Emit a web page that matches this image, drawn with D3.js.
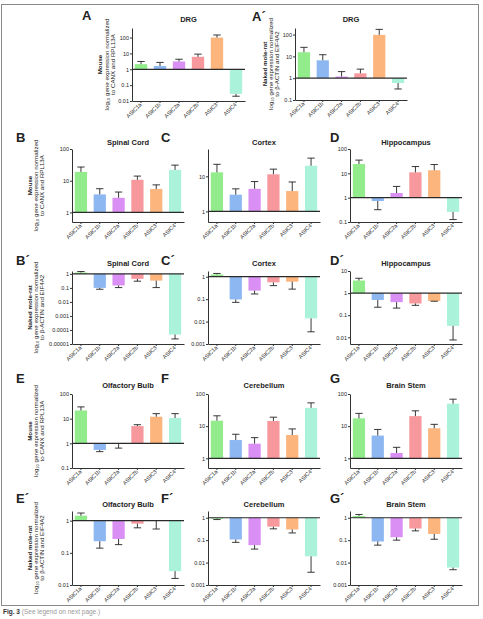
<!DOCTYPE html>
<html>
<head>
<meta charset="utf-8">
<script src="https://cdn.jsdelivr.net/npm/d3@7"></script>
<style>
body { margin: 0; background: #fff; }
text { font-family: "Liberation Sans", Arial, sans-serif; fill: #222; }
</style>
</head>
<body>
<svg id="fig" width="483" height="619"></svg>
<script>
var genes = ["ASIC1a", "ASIC1b", "ASIC2a", "ASIC2b", "ASIC3", "ASIC4"];
var geneColors = ["#93ec8b", "#8db7f1", "#d98ff3", "#f7989c", "#fbb57d", "#abf2da"];

// mouse, normalized to CANX and RPL13A (mean, mean + error)
var drgMouse = [2.1, 1.6, 3.1, 6.1, 100, 0.028];
var drgMouseErr = [3.1, 2.7, 4.3, 9, 145, 0.02];
var spinalMouse = [19, 3.7, 2.9, 10.7, 5.5, 22];
var spinalMouseErr = [27, 5.6, 4.4, 14, 7.4, 31];
var cortexMouse = [13, 3, 4.4, 11.4, 3.8, 20];
var cortexMouseErr = [22, 4.4, 7.1, 16, 6.9, 33];
var hippoMouse = [24, 0.73, 1.55, 11, 13.4, 0.26];
var hippoMouseErr = [35, 0.32, 2.9, 19, 23, 0.126];
var olfMouse = [21.5, 0.54, 0.97, 5, 12, 10.7];
var olfMouseErr = [30, 0.46, 0.64, 5.7, 16, 16];
var cereMouse = [14.8, 3.7, 2.85, 14.5, 5.3, 37];
var cereMouseErr = [21, 5.6, 4.4, 19, 8.2, 53];
var stemMouse = [17.5, 5.1, 1.46, 20.5, 8.6, 50];
var stemMouseErr = [25, 7.9, 2.2, 30, 11.4, 69];

// naked mole-rat, normalized to beta-ACTIN and EIF4A2
var drgRat = [15.5, 6.6, 1.19, 1.67, 97, 0.6];
var drgRatErr = [26, 11.9, 2, 2.6, 173, 0.32];
var spinalRat = [1.25, 0.1, 0.15, 0.44, 0.33, 0.000047];
var spinalRatErr = [1.47, 0.08, 0.105, 0.3, 0.105, 0.000023];
var cortexRat = [1.27, 0.097, 0.24, 0.56, 0.6, 0.014];
var cortexRatErr = [1.4, 0.072, 0.17, 0.4, 0.28, 0.0035];
var hippoRat = [3.7, 0.49, 0.39, 0.34, 0.44, 0.033];
var hippoRatErr = [4.7, 0.23, 0.21, 0.28, 0.43, 0.0076];
var olfRat = [1.43, 0.23, 0.27, 0.81, 0.98, 0.027];
var olfRatErr = [1.73, 0.14, 0.18, 0.6, 0.55, 0.016];
var cereRat = [0.9, 0.107, 0.06, 0.4, 0.3, 0.019];
var cereRatErr = [0.83, 0.08, 0.04, 0.32, 0.21, 0.0037];
var stemRat = [1.2, 0.087, 0.135, 0.33, 0.19, 0.006];
var stemRatErr = [1.4, 0.06, 0.1, 0.26, 0.11, 0.0048];

var tickValues = [100, 10, 1, 0.1, 0.01, 0.001, 0.0001, 0.00001];
var mouseLabel = ["Mouse", "gene expression normalized", "to CANX and RPL13A"];
var ratLabel = ["Naked mole-rat", "gene expression normalized", "to \u03b2-ACTIN and EIF4A2"];

var svg = d3.select("#fig");

// column / row placement of the plot areas
var cols = [72, 208, 350];
var colLetterX = [16, 161, 330];
var rows = [
    {y0: 149, y1: 222, letterY: 142, titleY: 144.5},
    {y0: 271, y1: 344, letterY: 265, titleY: 265.5},
    {y0: 394, y1: 468, letterY: 383, titleY: 388},
    {y0: 511, y1: 585, letterY: 503, titleY: 507}
];

var panels = [
    {letter: "A", title: "DRG", vals: drgMouse, errs: drgMouseErr, x: 132, w: 113, y0: 28, y1: 101, dom: [0.01, 400], lx: 82, ly: 20, ty: 21.5, lab: mouseLabel, labX: [102, 108.5, 115]},
    {letter: "A\u00b4", title: "DRG", vals: drgRat, errs: drgRatErr, x: 295, w: 112, y0: 28, y1: 100, dom: [0.1, 200], lx: 252, ly: 21, ty: 21.5, lab: ratLabel, labX: [267, 273, 279]},
    {letter: "B", title: "Spinal Cord", vals: spinalMouse, errs: spinalMouseErr, col: 0, row: 0, dom: [0.5, 100], lab: mouseLabel},
    {letter: "C", title: "Cortex", vals: cortexMouse, errs: cortexMouseErr, col: 1, row: 0, dom: [0.5, 60]},
    {letter: "D", title: "Hippocampus", vals: hippoMouse, errs: hippoMouseErr, col: 2, row: 0, dom: [0.1, 100]},
    {letter: "B\u00b4", title: "Spinal Cord", vals: spinalRat, errs: spinalRatErr, col: 0, row: 1, dom: [0.00001, 1.6], lab: ratLabel},
    {letter: "C\u00b4", title: "Cortex", vals: cortexRat, errs: cortexRatErr, col: 1, row: 1, dom: [0.001, 1.8]},
    {letter: "D\u00b4", title: "Hippocampus", vals: hippoRat, errs: hippoRatErr, col: 2, row: 1, dom: [0.005, 10]},
    {letter: "E", title: "Olfactory Bulb", vals: olfMouse, errs: olfMouseErr, col: 0, row: 2, dom: [0.1, 100], lab: mouseLabel},
    {letter: "F", title: "Cerebellum", vals: cereMouse, errs: cereMouseErr, col: 1, row: 2, dom: [0.5, 100]},
    {letter: "G", title: "Brain Stem", vals: stemMouse, errs: stemMouseErr, col: 2, row: 2, dom: [0.5, 100]},
    {letter: "E\u00b4", title: "Olfactory Bulb", vals: olfRat, errs: olfRatErr, col: 0, row: 3, dom: [0.01, 2], lab: ratLabel},
    {letter: "F\u00b4", title: "Cerebellum", vals: cereRat, errs: cereRatErr, col: 1, row: 3, dom: [0.001, 2]},
    {letter: "G\u00b4", title: "Brain Stem", vals: stemRat, errs: stemRatErr, col: 2, row: 3, dom: [0.001, 2]}
];

// outer frame of the figure
svg.append("rect")
    .attr("x", 1.5).attr("y", 4.5)
    .attr("width", 477).attr("height", 601)
    .attr("fill", "none").attr("stroke", "#8a8a8a").attr("stroke-width", 1);

function fmtTick(v) {
    if (v >= 1) return String(v);
    return v.toFixed(Math.round(-Math.log10(v)));
}

function drawPanel(p) {
    if (p.col !== undefined) {
        var r = rows[p.row];
        p.x = cols[p.col]; p.w = 112;
        p.y0 = r.y0; p.y1 = r.y1;
        p.lx = colLetterX[p.col]; p.ly = r.letterY; p.ty = r.titleY;
        p.labX = [31.5, 37.5, 43.5];
    }
    var g = svg.append("g");

    var x = d3.scaleBand().domain(genes)
        .range([p.x, p.x + p.w])
        .paddingInner(0.35).paddingOuter(0.15);
    var y = d3.scaleLog().domain(p.dom).range([p.y1, p.y0]);
    var ticks = tickValues.filter(function (t) { return t >= p.dom[0] * 0.999 && t <= p.dom[1] * 1.001; });

    // bars grow from 1
    g.selectAll("rect.bar").data(p.vals).join("rect")
        .attr("class", "bar")
        .attr("x", function (d, i) { return x(genes[i]); })
        .attr("width", x.bandwidth())
        .attr("y", function (d) { return Math.min(y(d), y(1)); })
        .attr("height", function (d) { return Math.abs(y(d) - y(1)); })
        .attr("fill", function (d, i) { return geneColors[i]; });

    // error bars
    var capW = x.bandwidth() * 0.3;
    var eb = g.selectAll("g.err").data(p.errs).join("g").attr("class", "err");
    eb.append("line")
        .attr("x1", function (d, i) { return x(genes[i]) + x.bandwidth() / 2; })
        .attr("x2", function (d, i) { return x(genes[i]) + x.bandwidth() / 2; })
        .attr("y1", function (d, i) { return y(p.vals[i]); })
        .attr("y2", function (d) { return y(d); })
        .attr("stroke", "#222").attr("stroke-width", 0.9);
    eb.append("line")
        .attr("x1", function (d, i) { return x(genes[i]) + x.bandwidth() / 2 - capW; })
        .attr("x2", function (d, i) { return x(genes[i]) + x.bandwidth() / 2 + capW; })
        .attr("y1", function (d) { return y(d); })
        .attr("y2", function (d) { return y(d); })
        .attr("stroke", "#222").attr("stroke-width", 0.9);

    // y axis
    var ya = g.append("g")
        .attr("transform", "translate(" + p.x + ",0)")
        .call(d3.axisLeft(y).tickValues(ticks).tickFormat(fmtTick).tickSize(2).tickSizeOuter(0).tickPadding(1));
    ya.selectAll("text").style("font-size", "5.5px").style("font-family", "'Liberation Sans', Arial, sans-serif").attr("fill", "#333");
    ya.selectAll("line, path").attr("stroke", "#333");

    // x axis
    var xa = g.append("g")
        .attr("transform", "translate(0," + p.y1 + ")")
        .call(d3.axisBottom(x).tickSize(2).tickSizeOuter(0).tickPadding(1));
    xa.selectAll("line, path").attr("stroke", "#333");
    xa.selectAll("text")
        .style("font-size", "5.5px").style("font-family", "'Liberation Sans', Arial, sans-serif")
        .attr("fill", "#333")
        .attr("text-anchor", "end")
        .attr("dy", null).attr("y", 0)
        .attr("transform", "translate(1,4) rotate(-45)");

    // reference line at 1
    g.append("line")
        .attr("x1", p.x).attr("x2", p.x + p.w)
        .attr("y1", y(1)).attr("y2", y(1))
        .attr("stroke", "#2a2a2a").attr("stroke-width", 1.2);

    g.append("text")
        .attr("x", p.lx).attr("y", p.ly)
        .style("font-size", "13px").style("font-weight", "bold")
        .text(p.letter);

    g.append("text")
        .attr("x", p.x + p.w / 2).attr("y", p.ty)
        .attr("text-anchor", "middle")
        .style("font-size", "7.5px").style("font-weight", "bold")
        .text(p.title);

    if (p.lab) {
        var cy = (p.y0 + p.y1) / 2;
        p.lab.forEach(function (s, i) {
            var t = g.append("text")
                .attr("transform", "translate(" + p.labX[i] + "," + cy + ") rotate(-90)")
                .attr("text-anchor", "middle")
                .style("font-size", "6.2px");
            if (i === 0) {
                t.style("font-weight", "bold").text(s);
            } else if (i === 1) {
                t.append("tspan").text("log");
                t.append("tspan").attr("dy", 1.2).style("font-size", "4px").text("10");
                t.append("tspan").attr("dy", -1.2).text(" " + s);
            } else {
                t.text(s);
            }
        });
    }
}

panels.forEach(drawPanel);

// caption
var cap = svg.append("text").attr("x", 3).attr("y", 614).style("font-size", "6.5px");
cap.append("tspan").style("font-weight", "bold").attr("fill", "#333").text("Fig. 3");
cap.append("tspan").attr("fill", "#999").text(" (See legend on next page.)");
</script>
</body>
</html>
